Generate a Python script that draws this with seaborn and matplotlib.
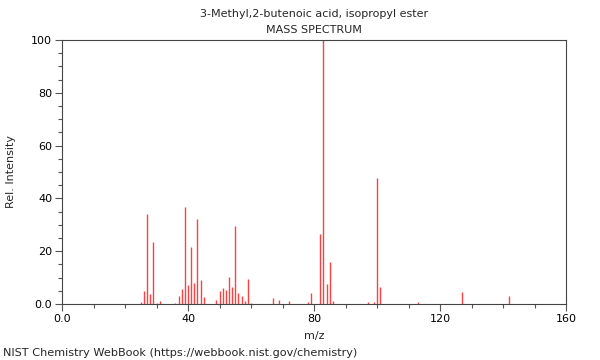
import matplotlib
matplotlib.use("Agg")
import matplotlib.pyplot as plt
from matplotlib.ticker import MultipleLocator, FixedFormatter, FixedLocator
import seaborn as sns

# peak positions (m/z) and relative intensities
mz = [25, 26, 27, 28, 29, 30, 31, 36, 37, 38, 39, 40, 41, 42, 43, 44, 45,
      49, 50, 51, 52, 53, 54, 55, 56, 57, 58, 59, 60, 67, 69, 72, 78, 79,
      82, 83, 84, 85, 86, 97, 99, 100, 101, 113, 127, 142]
intensity = [0.8, 5.0, 34.1, 3.9, 23.4, 0.5, 1.2, 0.5, 3.0, 5.6, 36.9, 7.1, 21.6, 8.0, 32.3, 9.0, 2.7,
             1.4, 4.9, 6.1, 5.3, 10.3, 6.3, 29.5, 4.0, 2.9, 1.3, 9.3, 0.5, 2.3, 1.5, 1.1, 0.6, 4.2,
             26.5, 100.0, 7.6, 15.8, 1.1, 0.8, 0.8, 47.6, 6.4, 0.8, 4.7, 3.0]

x_ticks = [0, 40, 80, 120, 160]
x_tick_labels = ["0.0", "40", "80", "120", "160"]
y_ticks = [0, 20, 40, 60, 80, 100]
y_tick_labels = ["0.0", "20", "40", "60", "80", "100"]

title = "3-Methyl,2-butenoic acid, isopropyl ester"
subtitle = "MASS SPECTRUM"
footer = "NIST Chemistry WebBook (https://webbook.nist.gov/chemistry)"

sns.set_style("ticks")
plt.rcParams["font.family"] = ["DejaVu Sans"]

fig = plt.figure(figsize=(6, 3.6), dpi=100)
ax = fig.add_axes([62 / 600, 1 - 304 / 360, 504 / 600, 264 / 360])

ax.vlines(mz, 0, intensity, colors="#ff0000", linewidth=1.0, alpha=0.75)

ax.set_xlim(0, 160)
ax.set_ylim(0, 100)

ax.xaxis.set_major_locator(FixedLocator(x_ticks))
ax.xaxis.set_major_formatter(FixedFormatter(x_tick_labels))
ax.xaxis.set_minor_locator(MultipleLocator(10))
ax.yaxis.set_major_locator(FixedLocator(y_ticks))
ax.yaxis.set_major_formatter(FixedFormatter(y_tick_labels))
ax.yaxis.set_minor_locator(MultipleLocator(5))

ax.tick_params(which="major", length=5, width=0.8, color="#555555", labelsize=8, labelcolor="black", pad=2)
ax.tick_params(which="minor", length=3, width=0.8, color="#555555")
for s in ax.spines.values():
    s.set_visible(True)
    s.set_color("#444444")
    s.set_linewidth(0.8)
ax.grid(False)

ax.set_xlabel("m/z", fontsize=8, labelpad=5)
ax.set_ylabel("Rel. Intensity", fontsize=8, labelpad=11)

fig.text(314 / 600, 1 - 14 / 360, title, ha="center", va="center", fontsize=8)
fig.text(314 / 600, 1 - 30 / 360, subtitle, ha="center", va="center", fontsize=8)
fig.text(3 / 600, 1 - 353 / 360, footer, ha="left", va="center", fontsize=8.1)

fig.savefig("out.png", dpi=100)
